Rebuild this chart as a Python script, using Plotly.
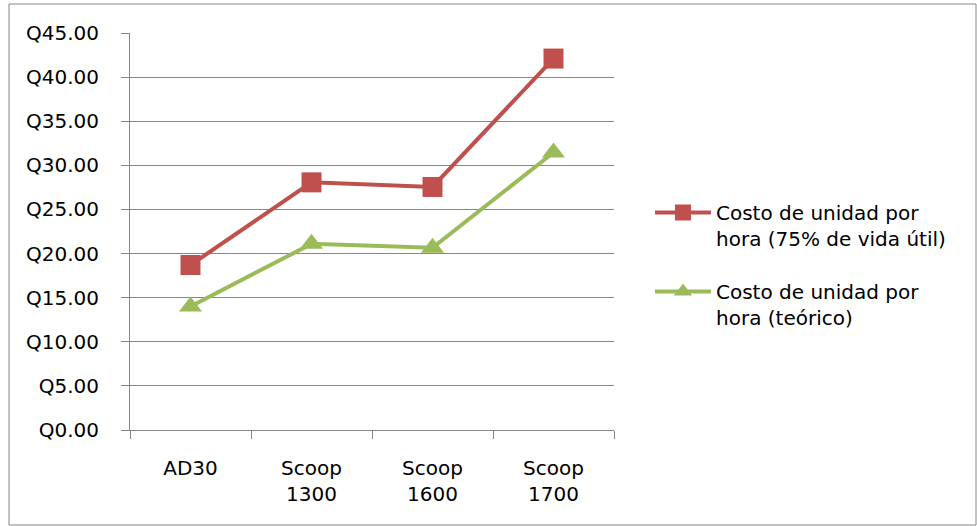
import plotly.graph_objects as go

categories = ["AD30", "Scoop<br>1300", "Scoop<br>1600", "Scoop<br>1700"]
costo_75 = [18.7, 28.07, 27.55, 42.1]
costo_teorico = [14.0, 21.1, 20.65, 31.45]
series_names = ["Costo de unidad por<br>hora (75% de vida útil)",
                "Costo de unidad por<br>hora (teórico)"]

FONT = "DejaVu Sans"
W, H = 977, 526
L, R, T, B = 130, 363, 33, 96
pw, ph = W - L - R, H - T - B

fig = go.Figure()
fig.add_trace(go.Scatter(
    x=categories, y=costo_75, name=series_names[0], mode="lines+markers",
    legendgroup="a",
    line=dict(color="#C0504D", width=4),
    marker=dict(symbol="square", size=20, color="#C0504D"),
))
fig.add_trace(go.Scatter(
    x=categories, y=costo_teorico, name=series_names[1], mode="lines+markers",
    legendgroup="b",
    line=dict(color="#9BBB59", width=4),
    marker=dict(symbol="triangle-up", size=20, color="#9BBB59"),
))

fig.update_layout(
    width=W, height=H,
    margin=dict(l=L, r=R, t=T, b=B),
    paper_bgcolor="white", plot_bgcolor="white",
    font=dict(family=FONT, size=20, color="black"),
    showlegend=True,
    legend=dict(x=(650 - L) / pw, y=(430 - 193) / ph, xanchor="left", yanchor="top",
                font=dict(family=FONT, size=20, color="black"),
                itemwidth=56, valign="top", tracegroupgap=24,
                bgcolor="rgba(0,0,0,0)"),
    xaxis=dict(type="category", range=[-0.5, 3.5], showgrid=False,
               showline=True, linecolor="#868686", linewidth=1,
               ticks="outside", tickson="boundaries", ticklen=8, tickcolor="#868686",
               tickfont=dict(family=FONT, size=20, color="black"),
               ticklabelstandoff=20, fixedrange=True),
    yaxis=dict(range=[0, 45], dtick=5, tick0=0, tickprefix="Q", tickformat=".2f",
               showgrid=True, gridcolor="#868686", gridwidth=1,
               showline=True, linecolor="#868686", linewidth=1,
               ticks="outside", ticklen=8, tickcolor="#868686",
               tickfont=dict(family=FONT, size=20, color="black"),
               ticklabelstandoff=18, zeroline=False, fixedrange=True),
    shapes=[dict(type="rect", xref="paper", yref="paper",
                 x0=(9 - L) / pw, x1=(976 - L) / pw,
                 y0=(430 - 525) / ph, y1=(430 - 4) / ph,
                 line=dict(color="#868686", width=1), fillcolor="rgba(0,0,0,0)", layer="below")],
)

fig.write_html("out.html")
